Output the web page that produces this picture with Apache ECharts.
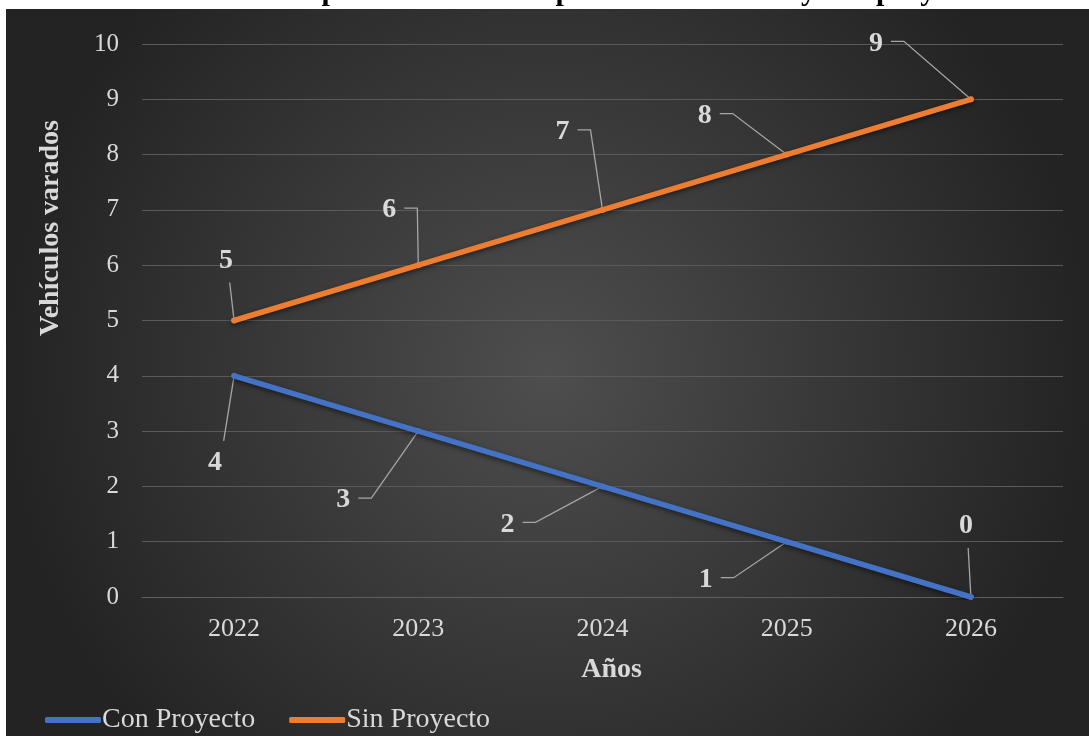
<!DOCTYPE html>
<html>
<head>
<meta charset="utf-8">
<script src="https://cdn.jsdelivr.net/npm/echarts@6/dist/echarts.min.js"></script>
<style>
  html, body { margin: 0; padding: 0; background: #ffffff; }
  #chart { width: 1089px; height: 736px; }
</style>
</head>
<body>
<div id="chart"></div>
<script>
// Years on the horizontal axis
const years = ['2022', '2023', '2024', '2025', '2026'];
// Stranded vehicles, with and without the project
const conProyecto = [4, 3, 2, 1, 0];
const sinProyecto = [5, 6, 7, 8, 9];
// Value label offsets from each point (dx, dy in px) and how its leader leaves the label
const conLabels = [[-19, 87, 'v'], [-75, 69, 'h'], [-95, 38, 'h'], [-81, 38, 'h'], [-5, -71, 'v']];
const sinLabels = [[-8, -60, 'v'], [-29, -55, 'h'], [-40, -78, 'h'], [-82, -39, 'h'], [-95, -56, 'h']];

const FONT = '"Liberation Serif", "Times New Roman", serif';
const TEXT = '#d9d9d9';
const LEADER = '#a6a6a6';

const chart = echarts.init(document.getElementById('chart'));

function lineSeries(name, data, color, labels) {
  return {
    name: name,
    type: 'line',
    data: data,
    symbol: 'circle',
    symbolSize: 6,
    showSymbol: true,
    itemStyle: { color: color },
    lineStyle: {
      color: color, width: 5.5, cap: 'round',
      shadowColor: 'rgba(0,0,0,0.55)', shadowBlur: 5, shadowOffsetY: 2
    },
    label: {
      show: true,
      position: 'inside',
      fontFamily: FONT,
      fontWeight: 'bold',
      fontSize: 28,
      color: TEXT
    },
    labelLayout: function (p) {
      const o = labels[p.dataIndex];
      return { dx: o[0], dy: o[1] };
    },
    emphasis: { disabled: true },
    z: 3
  };
}

// Leader lines joining each value label to its point
function leaderSeries(values, labels) {
  return {
    type: 'custom',
    silent: true,
    z: 2,
    data: values.map(function (v, i) { return [i, v]; }),
    renderItem: function (params, api) {
      const i = params.dataIndex;
      const p = api.coord([api.value(0), api.value(1)]);
      const o = labels[i];
      const cx = p[0] + o[0], cy = p[1] + o[1];
      let pts;
      if (o[2] === 'h') {
        const sx = cx + 15, sy = cy - 2;
        pts = [[sx, sy], [sx + 13, sy], p];
      } else {
        const dir = o[1] > 0 ? -1 : 1;
        pts = [[cx + 0.45 * (p[0] - cx), cy + dir * 22], p];
      }
      return {
        type: 'polyline',
        shape: { points: pts },
        style: { stroke: LEADER, lineWidth: 1.3, fill: null }
      };
    }
  };
}

chart.setOption({
  animation: false,
  title: {
    text: 'Gráfica 4: Comportamiento de la presión atascas sin y con proyecto.',
    left: 553,
    textAlign: 'center',
    top: -28,
    textStyle: { fontFamily: FONT, fontWeight: 'bold', fontSize: 30, color: '#000000' }
  },
  graphic: [{
    type: 'rect',
    z: -10,
    silent: true,
    shape: { x: 6, y: 9, width: 1083, height: 727 },
    style: {
      fill: {
        type: 'radial', x: 0.5, y: 0.5, r: 0.75,
        colorStops: [
          { offset: 0, color: '#4e4e4e' },
          { offset: 1, color: '#232323' }
        ]
      }
    }
  }, {
    type: 'text',
    silent: true,
    x: 51,
    y: 228,
    rotation: Math.PI / 2,
    style: {
      text: 'Vehículos varados',
      fontFamily: FONT,
      fontWeight: 'bold',
      fontSize: 28,
      fill: TEXT,
      align: 'center',
      verticalAlign: 'middle'
    }
  }],
  legend: {
    left: 40,
    top: 701,
    itemWidth: 56,
    itemHeight: 6,
    itemGap: 34,
    icon: 'roundRect',
    textStyle: { fontFamily: FONT, fontSize: 28, color: TEXT, padding: [0, 0, 0, -4] },
    data: ['Con Proyecto', 'Sin Proyecto']
  },
  grid: { left: 142, right: 26, top: 44, bottom: 139 },
  xAxis: {
    type: 'category',
    data: years,
    boundaryGap: true,
    name: 'Años',
    nameLocation: 'middle',
    nameGap: 59,
    nameTextStyle: { fontFamily: FONT, fontWeight: 'bold', fontSize: 28, color: TEXT, padding: [0, 0, 0, 18] },
    axisLine: { lineStyle: { color: '#5f5f5f', width: 1 } },
    axisTick: { show: false },
    axisLabel: { fontFamily: FONT, fontSize: 26, color: TEXT, margin: 19 }
  },
  yAxis: {
    type: 'value',
    min: 0,
    max: 10,
    interval: 1,
    axisLine: { show: false },
    axisTick: { show: false },
    axisLabel: { fontFamily: FONT, fontSize: 25, color: TEXT, margin: 23 },
    splitLine: { lineStyle: { color: '#5a5a5a', width: 1 } }
  },
  series: [
    lineSeries('Con Proyecto', conProyecto, '#4472c4', conLabels),
    lineSeries('Sin Proyecto', sinProyecto, '#ed7d31', sinLabels),
    leaderSeries(conProyecto, conLabels),
    leaderSeries(sinProyecto, sinLabels)
  ]
});
</script>
</body>
</html>
